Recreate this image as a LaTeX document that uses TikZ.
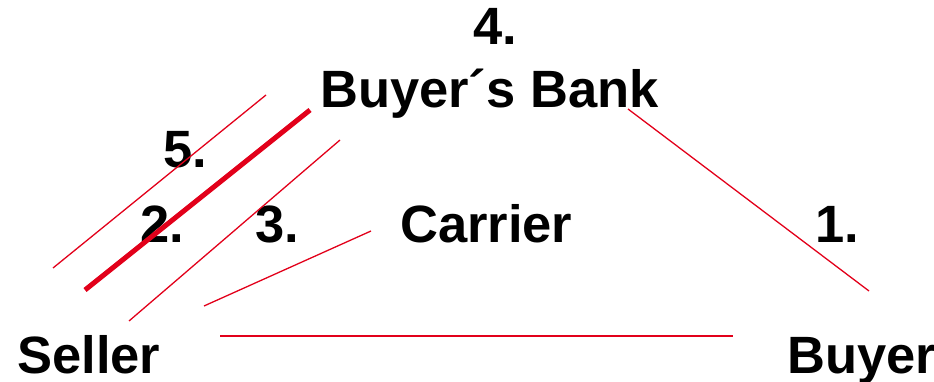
\documentclass[tikz,border=0pt]{standalone}
\usepackage{fontspec}
\setmainfont{Liberation Sans}
\definecolor{linkred}{RGB}{226,0,26}
\begin{document}
\begin{tikzpicture}[x=1pt,y=-1pt,
  lbl/.style={anchor=base west,inner sep=0pt,font=\fontsize{52.5}{60}\selectfont\bfseries},
  link/.style={draw=linkred,line width=1.3pt},
  mainlink/.style={draw=linkred,line width=5pt}]
\useasboundingbox (0,0) rectangle (934,382);

% parties and step numbers
\node[lbl] (n4) at (473,45) {4.};
\node[lbl] (bank) at (320,108) {Buyer´s Bank};
\node[lbl] (n5) at (163,168) {5.};
\node[lbl] (n2) at (140,243) {2.};
\node[lbl] (n3) at (255,243) {3.};
\node[lbl] (carrier) at (400,243) {Carrier};
\node[lbl] (n1) at (815,243) {1.};
\node[lbl] (seller) at (17,373) {Seller};
\node[lbl] (buyer) at (787,373) {Buyer};

% line end points
\coordinate (a5) at (53,268);   \coordinate (b5) at (266,95);
\coordinate (a2) at (85,290);   \coordinate (b2) at (310,110);
\coordinate (a3) at (129,321);  \coordinate (b3) at (340,140);
\coordinate (ac) at (204,306);  \coordinate (bc) at (371,231);
\coordinate (as) at (220,336);  \coordinate (bs) at (733,336);
\coordinate (a1) at (628,109);  \coordinate (b1) at (869,291);

% flows
\draw[link] (a5) -- (b5);
\draw[mainlink] (a2) -- (b2);
\draw[link] (a3) -- (b3);
\draw[link] (ac) -- (bc);
\draw[link] (as) -- (bs);
\draw[link] (a1) -- (b1);
\end{tikzpicture}
\end{document}
